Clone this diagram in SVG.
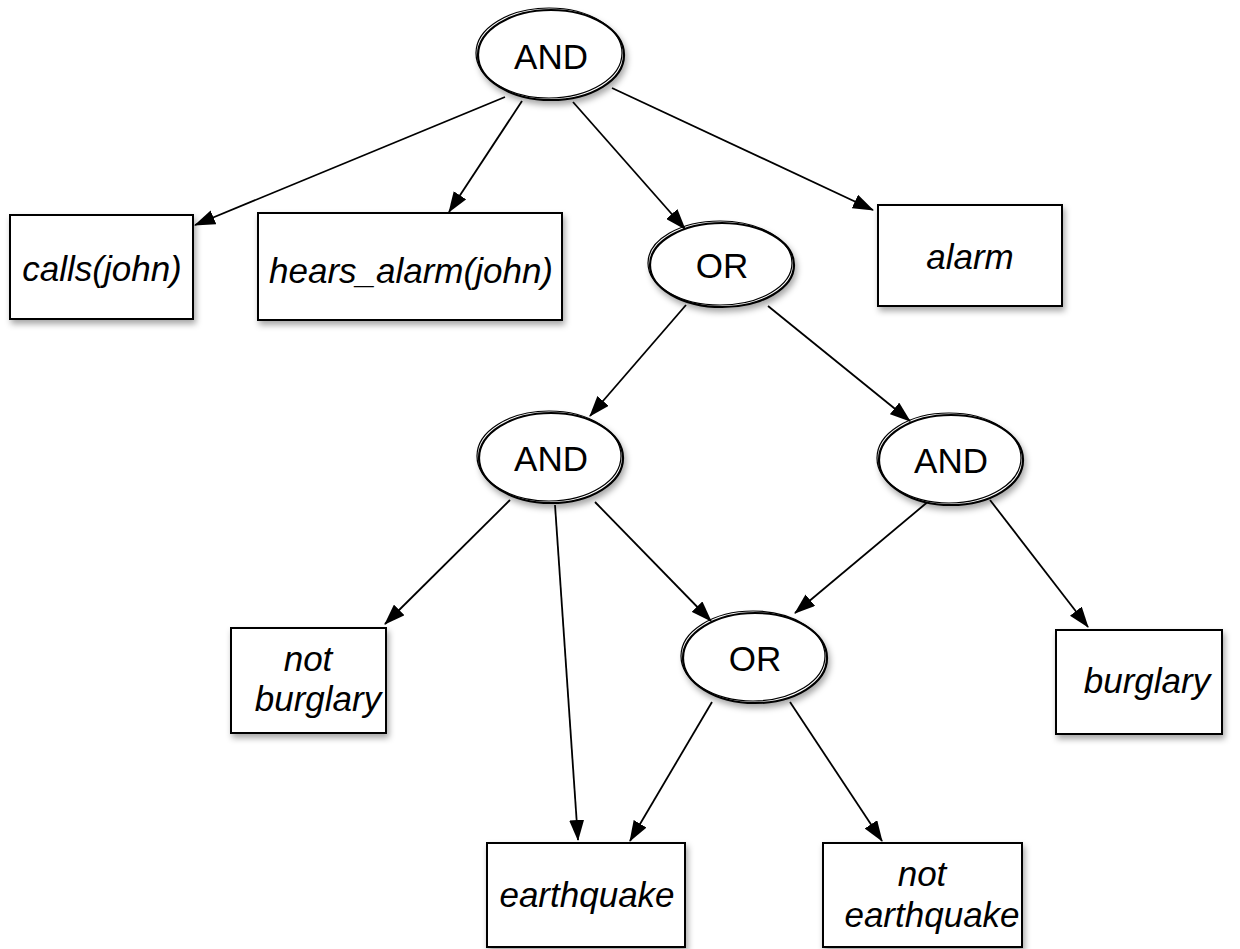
<svg xmlns="http://www.w3.org/2000/svg" width="1240" height="949" viewBox="0 0 1240 949">
<defs>
<filter id="sh" x="-20%" y="-20%" width="150%" height="160%">
<feDropShadow dx="2" dy="4" stdDeviation="3" flood-color="#000" flood-opacity="0.35"/>
</filter>
<marker id="ah" viewBox="0 0 21 15" refX="20" refY="7.5" markerWidth="21" markerHeight="15" markerUnits="userSpaceOnUse" orient="auto">
<path d="M0,0 L21,7.5 L0,15 Z" fill="#000"/>
</marker>
</defs>
<style>
.el{fill:#fff;stroke:#000;stroke-width:2.2}
.el2{fill:none;stroke:#000;stroke-width:1.2}
.bx{fill:#fff;stroke:#000;stroke-width:2}
.op{font-family:"Liberation Sans",Arial,sans-serif;font-size:35px;fill:#000;text-anchor:middle}
.lf{font-family:"Liberation Sans",Arial,sans-serif;font-size:35px;font-style:italic;fill:#000;text-anchor:middle}
.cn{stroke:#000;stroke-width:1.8;fill:none;marker-end:url(#ah)}
</style>
<g id="connectors">
<line class="cn" x1="505" y1="97" x2="195" y2="225"/>
<line class="cn" x1="522" y1="101" x2="449" y2="212"/>
<line class="cn" x1="573" y1="102" x2="685" y2="229"/>
<line class="cn" x1="612" y1="88" x2="873" y2="210"/>
<line class="cn" x1="686" y1="305" x2="590" y2="416"/>
<line class="cn" x1="768" y1="306" x2="910" y2="421"/>
<line class="cn" x1="510" y1="500" x2="385" y2="624"/>
<line class="cn" x1="555" y1="505" x2="578" y2="840"/>
<line class="cn" x1="595" y1="502" x2="711" y2="621"/>
<line class="cn" x1="930" y1="500" x2="795" y2="613"/>
<line class="cn" x1="990" y1="500" x2="1088" y2="627"/>
<line class="cn" x1="712" y1="702" x2="630" y2="841"/>
<line class="cn" x1="790" y1="702" x2="882" y2="841"/>
</g>
<g id="and_top">
<ellipse class="el" cx="551" cy="55" rx="73" ry="45" filter="url(#sh)"/>
<ellipse class="el2" cx="549" cy="53" rx="73" ry="45"/>
<text class="op" x="551" y="69">AND</text>
</g>
<g id="calls_john">
<rect class="bx" x="10" y="215" width="183" height="104" filter="url(#sh)"/>
<text class="lf" x="102" y="281">calls(john)</text>
</g>
<g id="hears_alarm_john">
<rect class="bx" x="258" y="213" width="304" height="107" filter="url(#sh)"/>
<text class="lf" x="411" y="283">hears_alarm(john)</text>
</g>
<g id="or_top">
<ellipse class="el" cx="722" cy="265" rx="72" ry="42" filter="url(#sh)"/>
<ellipse class="el2" cx="720" cy="263" rx="72" ry="42"/>
<text class="op" x="722" y="278">OR</text>
</g>
<g id="alarm">
<rect class="bx" x="878" y="205" width="184" height="101" filter="url(#sh)"/>
<text class="lf" x="970" y="269">alarm</text>
</g>
<g id="and_left">
<ellipse class="el" cx="551" cy="458" rx="72" ry="45" filter="url(#sh)"/>
<ellipse class="el2" cx="549" cy="456" rx="72" ry="45"/>
<text class="op" x="551" y="471">AND</text>
</g>
<g id="and_right">
<ellipse class="el" cx="951" cy="460" rx="72" ry="45" filter="url(#sh)"/>
<ellipse class="el2" cx="949" cy="458" rx="72" ry="45"/>
<text class="op" x="951" y="473">AND</text>
</g>
<g id="not_burglary">
<rect class="bx" x="231" y="628" width="155" height="105" filter="url(#sh)"/>
<text class="lf" x="308" y="671">not</text>
<text class="lf" x="318" y="711">burglary</text>
</g>
<g id="or_bottom">
<ellipse class="el" cx="755" cy="658" rx="72" ry="45" filter="url(#sh)"/>
<ellipse class="el2" cx="753" cy="656" rx="72" ry="45"/>
<text class="op" x="755" y="671">OR</text>
</g>
<g id="burglary">
<rect class="bx" x="1056" y="630" width="166" height="104" filter="url(#sh)"/>
<text class="lf" x="1147" y="693">burglary</text>
</g>
<g id="earthquake">
<rect class="bx" x="487" y="843" width="198" height="104" filter="url(#sh)"/>
<text class="lf" x="587" y="907">earthquake</text>
</g>
<g id="not_earthquake">
<rect class="bx" x="823" y="843" width="199" height="104" filter="url(#sh)"/>
<text class="lf" x="922" y="886">not</text>
<text class="lf" x="932" y="927">earthquake</text>
</g>
</svg>
